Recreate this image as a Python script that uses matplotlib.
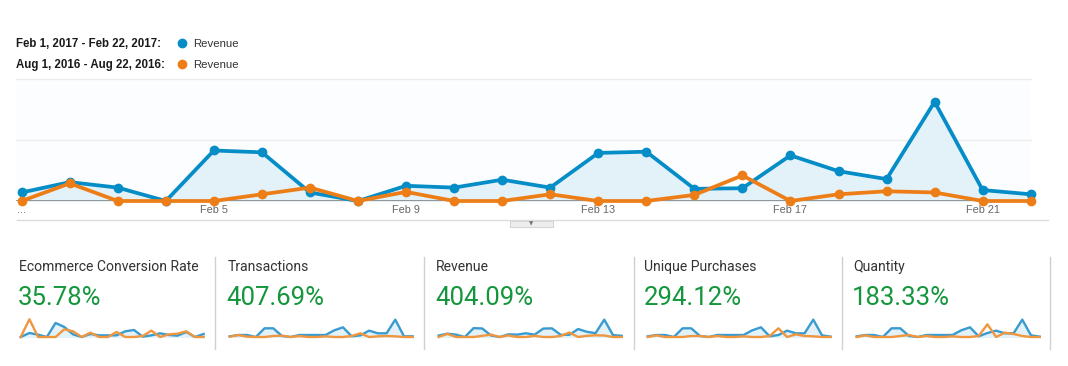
import matplotlib
matplotlib.use('Agg')
import matplotlib.pyplot as plt
from matplotlib.lines import Line2D
from matplotlib.patches import Rectangle

W, H = 1068, 366

# main chart, revenue per day (gridline = 1 unit)
days = list(range(22))
tick_pos = [0, 4, 8, 12, 16, 20]
tick_labels = ['...', 'Feb 5', 'Feb 9', 'Feb 13', 'Feb 17', 'Feb 21']
rev_2017 = [0.14, 0.31, 0.22, 0, 0.83, 0.80, 0.14, 0, 0.25, 0.22, 0.35,
            0.22, 0.79, 0.81, 0.20, 0.21, 0.75, 0.49, 0.36, 1.63, 0.18, 0.11]
rev_2016 = [0, 0.29, 0, 0, 0, 0.11, 0.22, 0, 0.15, 0, 0,
            0.11, 0, 0, 0.10, 0.42, 0, 0.11, 0.16, 0.14, 0, 0]

legend_labels = ['Feb 1, 2017 - Feb 22, 2017:', 'Aug 1, 2016 - Aug 22, 2016:']

# scorecards
card_titles = ['Ecommerce Conversion Rate', 'Transactions', 'Revenue',
               'Unique Purchases', 'Quantity']
card_values = ['35.78%', '407.69%', '404.09%', '294.12%', '183.33%']

conv_2017 = [0, 12, 7, 0, 42, 30, 8, 0, 9, 5, 5, 5, 17, 21, 1, 5, 11, 6, 4, 15, 0, 9]
conv_2016 = [0, 53, 0, 0, 0, 23, 17, 0, 13, 0, 0, 15, 0, 0, 3, 19, 0, 8, 10, 17, 0, 0]
trans_2017 = [2, 6, 6, 0, 26, 26, 3, 0, 6, 6, 6, 6, 20, 29, 2, 5, 19, 11, 11, 52, 2, 2]
trans_2016 = [1, 6, 1, 0, 0, 3, 4, 0, 3, 0, 0, 2, 0, 0, 3, 11, 0, 2, 3, 2, 0, 0]
uniq_2017 = [2, 6, 6, 0, 26, 26, 3, 0, 6, 6, 6, 6, 20, 29, 2, 6, 19, 11, 11, 52, 5, 1]
uniq_2016 = [0, 5, 0, 0, 0, 3, 3, 0, 3, 0, 0, 2, 0, 0, 3, 26, 0, 8, 3, 2, 0, 0]
qty_2017 = [2, 6, 6, 0, 26, 26, 3, 0, 6, 6, 6, 6, 20, 29, 2, 12, 19, 11, 11, 52, 5, 1]
qty_2016 = [0, 5, 0, 0, 0, 3, 6, 0, 3, 0, 0, 2, 0, 0, 3, 38, 0, 13, 9, 3, 0, 0]

spark_data = [(conv_2017, conv_2016), (trans_2017, trans_2016),
              (rev_2017, rev_2016), (uniq_2017, uniq_2016),
              (qty_2017, qty_2016)]

BLUE = '#058dc7'
ORANGE = '#ed7e17'
FILL = '#e3f1f9'
GREEN = '#14963c'


def box(x0, y0, x1, y1):
    # pixel box (top-left origin) -> figure fraction rect
    return [x0 / W, 1 - y1 / H, (x1 - x0) / W, (y1 - y0) / H]


def fx(x):
    return x / W


def fy(y):
    return 1 - y / H


fig = plt.figure(figsize=(W / 100, H / 100), dpi=100)
fig.patch.set_facecolor('white')

# legend
for i, (lab, col) in enumerate(zip(legend_labels, [BLUE, ORANGE])):
    yb = 47.3 + 21 * i
    fig.text(fx(16), fy(yb), lab, fontsize=8.3, fontweight='bold',
             family='Liberation Sans', color='#1a1a1a', va='baseline')
    fig.add_artist(Line2D([fx(181.5)], [fy(yb - 4)], marker='o', ms=6,
                          color=col, linestyle='none'))
    fig.text(fx(193), fy(yb), 'Revenue', fontsize=8.2,
             family='Liberation Sans', color='#333333', va='baseline')

# main chart
ax = fig.add_axes(box(15.5, 79.3, 1030.7, 201))
ax.set_facecolor('#fcfdfe')
ax.fill_between(days, rev_2017, color=FILL, zorder=1)
ax.plot(days, rev_2017, color=BLUE, lw=2.7, marker='o', ms=6,
        clip_on=False, zorder=3)
ax.plot(days, rev_2016, color=ORANGE, lw=2.7, marker='o', ms=6,
        clip_on=False, zorder=4)
ax.set_xlim(-0.129, 21)
ax.set_ylim(0, 2)
for yv in [1, 2]:
    ax.axhline(yv, color='#ebebeb', lw=1, zorder=0, clip_on=False)
ax.axhline(0, color='#8c8c8c', lw=1.3, zorder=2)
ax.set_yticks([])
ax.set_xticks(tick_pos)
ax.set_xticklabels(tick_labels, fontsize=7.8, family='Liberation Sans',
                   color='#666666')
ax.tick_params(axis='x', length=0, pad=3)
for s in ax.spines.values():
    s.set_visible(False)

# divider under chart with little tab
fig.add_artist(Line2D([fx(17), fx(1048)], [fy(220), fy(220)],
                      color='#dcdcdc', lw=1))
fig.add_artist(Rectangle((fx(510), fy(226.5)), (553 - 510) / W, 6 / H,
                         facecolor='#eeeeee', edgecolor='#d6d6d6', lw=0.8,
                         transform=fig.transFigure))
fig.text(fx(531.5), fy(223.3), '\u25bc', fontsize=4, color='#777777',
         ha='center', va='center')

# scorecards
for i in range(5):
    tx = 19 + 208.5 * i
    fig.text(fx(tx), fy(271), card_titles[i], fontsize=10.1, family='Roboto',
             color='#333333', va='baseline')
    fig.text(fx(tx - 1), fy(305), card_values[i], fontsize=18.5,
             family='Roboto', color=GREEN, va='baseline')

    now, prev = spark_data[i]
    x0 = 20.7 + 209 * i
    sax = fig.add_axes(box(x0, 319.3, x0 + 183, 337))
    top = max(now) * 53 / 52 if i == 2 else 53
    sax.fill_between(days, now, color=FILL)
    sax.plot(days, now, color='#3a9bd0', lw=1.7, clip_on=False)
    sax.plot(days, prev, color='#f0963e', lw=1.7, clip_on=False)
    sax.set_xlim(0, 21)
    sax.set_ylim(0, top)
    sax.axis('off')

for sx in [215, 424, 634, 842, 1050]:
    fig.add_artist(Line2D([fx(sx), fx(sx)], [fy(257.3), fy(349.3)],
                          color='#d0d0d0', lw=1))

fig.savefig('out.png', dpi=100)
